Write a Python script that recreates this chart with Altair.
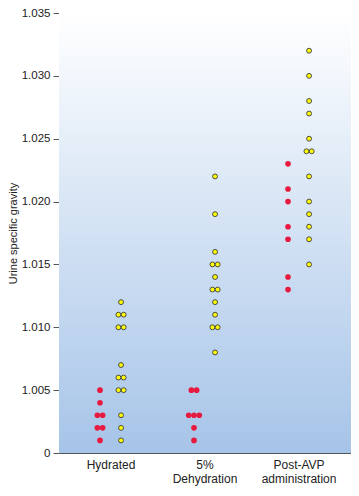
import altair as alt
import pandas as pd
from collections import Counter

# ---- data ----
group_lines = [["Hydrated"], ["5%", "Dehydration"], ["Post-AVP", "administration"]]

red_hydrated = [1.005, 1.004, 1.003, 1.003, 1.002, 1.002, 1.001]
yellow_hydrated = [1.012, 1.011, 1.011, 1.010, 1.010, 1.007, 1.006, 1.006,
                   1.005, 1.005, 1.003, 1.002, 1.001]
red_dehydration = [1.005, 1.005, 1.003, 1.003, 1.003, 1.002, 1.001]
yellow_dehydration = [1.022, 1.019, 1.016, 1.015, 1.015, 1.014, 1.013, 1.013,
                      1.012, 1.011, 1.010, 1.010, 1.008]
red_avp = [1.023, 1.021, 1.020, 1.018, 1.017, 1.014, 1.013]
yellow_avp = [1.032, 1.030, 1.028, 1.027, 1.025, 1.024, 1.024, 1.022,
              1.020, 1.019, 1.018, 1.017, 1.015]

y_ticks = [1.000, 1.005, 1.010, 1.015, 1.020, 1.025, 1.030, 1.035]

# ---- layout helpers (dot placement: side-by-side for equal values) ----
SIDE = 0.112
STEP = 0.056
series = [
    (1, "red", red_hydrated), (1, "yellow", yellow_hydrated),
    (2, "red", red_dehydration), (2, "yellow", yellow_dehydration),
    (3, "red", red_avp), (3, "yellow", yellow_avp),
]
rows = []
for g, s, vals in series:
    side = -SIDE if s == "red" else SIDE
    counts = Counter(round(v, 4) for v in vals)
    for v, n in counts.items():
        for i in range(n):
            rows.append({"pos": g + side + (i - (n - 1) / 2) * STEP,
                         "sg": v, "series": s})
df = pd.DataFrame(rows)

def js_list(lines):
    return "[" + ",".join("'" + t + "'" for t in lines) + "]"

label_expr = (f"datum.value == 1 ? {js_list(group_lines[0])} : "
              f"datum.value == 2 ? {js_list(group_lines[1])} : {js_list(group_lines[2])}")

x = alt.X("pos:Q",
          scale=alt.Scale(domain=[0.452, 3.558], nice=False, zero=False),
          axis=alt.Axis(values=[1, 2, 3], labelExpr=label_expr, ticks=False,
                        grid=False, title=None, labelFontSize=12,
                        labelLineHeight=14, labelPadding=6, labelColor="#222",
                        domainColor="#555", labelFont="Liberation Sans"))
y = alt.Y("sg:Q",
          scale=alt.Scale(domain=[1.000, 1.035], nice=False, zero=False),
          axis=alt.Axis(values=y_ticks,
                        labelExpr="datum.value < 1.0001 ? '0' : format(datum.value, '.3f')",
                        grid=False, title="Urine specific gravity", tickSize=6,
                        labelPadding=3, labelFontSize=11.5, labelColor="#222",
                        titleFontSize=11, titleFontWeight="normal",
                        titleColor="#222", titleX=-41, tickColor="#555",
                        domainColor="#555", labelFont="Liberation Sans",
                        titleFont="Liberation Sans"))

gradient = alt.LinearGradient(
    gradient="linear", x1=0, y1=0, x2=0, y2=1,
    stops=[alt.GradientStop(offset=0, color="#ffffff"),
           alt.GradientStop(offset=1, color="#a6c4e8")],
)

base = alt.Chart(df)
background = base.mark_rect(color=gradient, opacity=1).encode(
    x=alt.value(0), x2=alt.value("width"), y=alt.value(0), y2=alt.value("height")
).transform_filter("datum.pos == " + str(df["pos"].iloc[0]))

red = base.transform_filter(alt.datum.series == "red").mark_point(
    filled=True, size=32, color="#e8193f", opacity=1, strokeWidth=0
).encode(x=x, y=y)
yellow = base.transform_filter(alt.datum.series == "yellow").mark_point(
    filled=True, size=24, fill="#ffff00", stroke="#4a4a4a", strokeWidth=1,
    opacity=1, fillOpacity=1
).encode(x=x, y=y)

chart = alt.layer(background, red, yellow).properties(
    width=292, height=440,
    autosize=alt.AutoSizeParams(type="none"),
    padding={"left": 51, "top": 5, "right": 0, "bottom": 34},
).configure_view(strokeWidth=0).configure(background="white")

chart.save("out.html", embed_options={"renderer": "svg", "actions": False})
